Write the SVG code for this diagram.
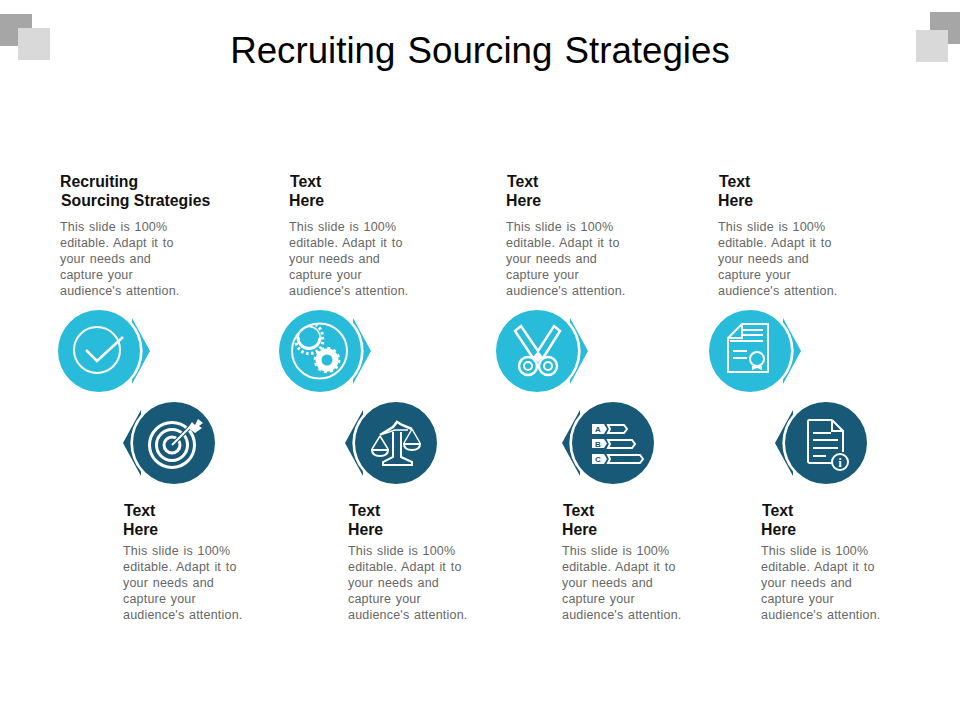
<svg xmlns="http://www.w3.org/2000/svg" width="960" height="720" viewBox="0 0 960 720">
<style>
text{font-family:"Liberation Sans",Arial,sans-serif}
.title{font-size:36.7px;fill:#000;word-spacing:2px}
.head{font-size:15.800px;font-weight:bold;fill:#111;transform:translateY(.6px)}
.body{font-size:12.5px;fill:#666;letter-spacing:.2px;word-spacing:1px}
.light{fill:#29BCDA}
.dark{fill:#175976}
.ic{fill:none;stroke:#fff;stroke-width:2}
.ic3{fill:none;stroke:#fff;stroke-width:3}
.w{fill:#fff}
</style>
<defs>
<path id="arrow" d="M33 -33L51 0L33 33V28.500A43.500 43.500 0 0 0 33 -28.500Z"/>
</defs>
<rect x="0" y="14" width="32" height="32" fill="#A6A6A6"/>
<rect x="18" y="28" width="32" height="32" fill="#D9D9D9"/>
<rect x="930" y="12" width="30" height="32" fill="#A6A6A6"/>
<rect x="916" y="30" width="32" height="32" fill="#D9D9D9"/>
<text class="title" x="480" y="63" text-anchor="middle">Recruiting Sourcing Strategies</text>

<g id="connectors"></g>

<g id="node-1">
<circle class="light" cx="99" cy="351" r="41"/><use href="#arrow" class="light" transform="translate(99 351)"/>
<circle class="ic" cx="97" cy="350" r="23"/><path class="ic" style="stroke-width:2.500" d="M86 350L97 361L123 337"/>
<text class="head" x="60" y="186">Recruiting</text><text class="head" x="61" y="205">Sourcing Strategies</text>
<text class="body"><tspan x="60" y="231">This slide is 100%</tspan><tspan x="60" y="247">editable. Adapt it to</tspan><tspan x="60" y="263">your needs and</tspan><tspan x="60" y="279">capture your</tspan><tspan x="60" y="295">audience's attention.</tspan></text>
</g>

<g id="node-2">
<circle class="light" cx="320" cy="351" r="41"/><use href="#arrow" class="light" transform="translate(320 351)"/>
<circle class="ic" cx="319.500" cy="351" r="27.500"/>
<path class="ic3" d="M298 337A11 11 0 0 0 320 338"/>
<path class="ic3" style="stroke-dasharray:2.500 2.500" d="M296 343A13.500 13.500 0 0 0 322.500 337A13.500 13.500 0 0 0 316 325"/>
<path class="ic" style="stroke-width:1.500" d="M298 337A11 11 0 0 1 320 338"/>
<circle class="ic" cx="327" cy="360" r="8.500" style="stroke-width:6"/>
<circle class="ic3" cx="327" cy="360" r="12" style="stroke-dasharray:3 3.280;stroke-width:2.500"/>
<text class="head" x="290" y="186">Text</text><text class="head" x="289" y="205">Here</text>
<text class="body"><tspan x="289" y="231">This slide is 100%</tspan><tspan x="289" y="247">editable. Adapt it to</tspan><tspan x="289" y="263">your needs and</tspan><tspan x="289" y="279">capture your</tspan><tspan x="289" y="295">audience's attention.</tspan></text>
</g>

<g id="node-3">
<circle class="light" cx="537" cy="351" r="41"/><use href="#arrow" class="light" transform="translate(537 351)"/>
<path class="ic" style="stroke-width:2.500" d="M533 358L515 331L521 326L538 351L554 326L560 331L543 358"/>
<path class="w" d="M533 357L538 351L543 357L538 362Z"/>
<circle class="ic" cx="528" cy="366" r="9" style="stroke-width:2.500"/><circle class="ic" cx="528" cy="366" r="4"/>
<circle class="ic" cx="548" cy="366" r="9" style="stroke-width:2.500"/><circle class="ic" cx="548" cy="366" r="4"/>
<text class="head" x="507" y="186">Text</text><text class="head" x="506" y="205">Here</text>
<text class="body"><tspan x="506" y="231">This slide is 100%</tspan><tspan x="506" y="247">editable. Adapt it to</tspan><tspan x="506" y="263">your needs and</tspan><tspan x="506" y="279">capture your</tspan><tspan x="506" y="295">audience's attention.</tspan></text>
</g>

<g id="node-4">
<circle class="light" cx="750" cy="351" r="41"/><use href="#arrow" class="light" transform="translate(750 351)"/>
<path class="ic" d="M728 338L742 324H768V372H728ZM742 324V338H728"/>
<path class="ic" d="M743 330H763M743 335H763M730 341H763M733 351H747M733 358H747"/>
<circle class="ic" cx="757" cy="359" r="7"/><path class="w" d="M752 366L752 370L757 368L762 370L762 366Z"/>
<text class="head" x="719" y="186">Text</text><text class="head" x="718" y="205">Here</text>
<text class="body"><tspan x="718" y="231">This slide is 100%</tspan><tspan x="718" y="247">editable. Adapt it to</tspan><tspan x="718" y="263">your needs and</tspan><tspan x="718" y="279">capture your</tspan><tspan x="718" y="295">audience's attention.</tspan></text>
</g>

<g id="node-5">
<circle class="dark" cx="174" cy="443" r="41"/><use href="#arrow" class="dark" transform="translate(174 443) scale(-1 1)"/>
<circle class="ic3" cx="172" cy="445" r="22.500"/>
<circle class="ic3" cx="172" cy="445" r="15.500"/>
<circle class="ic3" cx="172" cy="445" r="8"/>
<path fill="none" stroke="#175976" stroke-width="4" d="M172 445L190 427"/>
<path class="ic" d="M172 445L192 425"/>
<path class="w" d="M188 428L192 422L195 425L198 419L203 423L199 426L202 428L195 433Z"/>
<text class="head" x="124" y="515">Text</text><text class="head" x="123" y="534">Here</text>
<text class="body"><tspan x="123" y="555">This slide is 100%</tspan><tspan x="123" y="571">editable. Adapt it to</tspan><tspan x="123" y="587">your needs and</tspan><tspan x="123" y="603">capture your</tspan><tspan x="123" y="619">audience's attention.</tspan></text>
</g>

<g id="node-6">
<circle class="dark" cx="396" cy="443" r="41"/><use href="#arrow" class="dark" transform="translate(396 443) scale(-1 1)"/>
<path class="ic" style="stroke-width:2.500" d="M380 435L393 427L397 422L402 425L412 429"/>
<path class="ic" style="stroke-width:1.500" d="M383 434L395 430L408 430"/>
<path class="ic" d="M393 432V457L383 462V465H412V462L401 457V432"/>
<path class="ic" style="stroke-width:1.500" d="M380 436L372 449M380 436L388 449M412 429L404 443M412 429L420 443"/>
<path class="ic" d="M372 450H388Q388 456 380 456Q372 456 372 450ZM404 444H420Q420 450 412 450Q404 450 404 444Z"/>
<text class="head" x="349" y="515">Text</text><text class="head" x="348" y="534">Here</text>
<text class="body"><tspan x="348" y="555">This slide is 100%</tspan><tspan x="348" y="571">editable. Adapt it to</tspan><tspan x="348" y="587">your needs and</tspan><tspan x="348" y="603">capture your</tspan><tspan x="348" y="619">audience's attention.</tspan></text>
</g>

<g id="node-7">
<circle class="dark" cx="613" cy="443" r="41"/><use href="#arrow" class="dark" transform="translate(613 443) scale(-1 1)"/>
<path class="w" d="M592 424H604L607 429L604 434H592ZM592 439H604L607 443.500L604 448H592ZM592 454H604L607 459L604 464H592Z"/>
<path class="ic" d="M608 425H624L627 429L624 433H608L610 429ZM608 440H632L635 444L632 448H608L610 444ZM608 455H640L643 459L640 463H608L610 459Z"/>
<text x="598" y="432" text-anchor="middle" font-size="8" font-weight="bold" fill="#175976">A</text>
<text x="598" y="447" text-anchor="middle" font-size="8" font-weight="bold" fill="#175976">B</text>
<text x="598" y="462" text-anchor="middle" font-size="8" font-weight="bold" fill="#175976">C</text>
<text class="head" x="563" y="515">Text</text><text class="head" x="562" y="534">Here</text>
<text class="body"><tspan x="562" y="555">This slide is 100%</tspan><tspan x="562" y="571">editable. Adapt it to</tspan><tspan x="562" y="587">your needs and</tspan><tspan x="562" y="603">capture your</tspan><tspan x="562" y="619">audience's attention.</tspan></text>
</g>

<g id="node-8">
<circle class="dark" cx="826" cy="443" r="41"/><use href="#arrow" class="dark" transform="translate(826 443) scale(-1 1)"/>
<path class="ic" d="M832 420H809Q808 420 808 422V461Q808 463 810 463H832M832 420L843 431V452M832 420V431H843"/>
<path class="ic" d="M813 433H831M813 440H838M813 448H838M813 456H826"/>
<circle cx="840" cy="462" r="8" fill="#175976" stroke="#fff" stroke-width="2"/>
<text x="840" y="467" text-anchor="middle" font-size="13" font-weight="bold" fill="#fff" style="font-family:'Liberation Serif',serif">i</text>
<text class="head" x="762" y="515">Text</text><text class="head" x="761" y="534">Here</text>
<text class="body"><tspan x="761" y="555">This slide is 100%</tspan><tspan x="761" y="571">editable. Adapt it to</tspan><tspan x="761" y="587">your needs and</tspan><tspan x="761" y="603">capture your</tspan><tspan x="761" y="619">audience's attention.</tspan></text>
</g>
</svg>
